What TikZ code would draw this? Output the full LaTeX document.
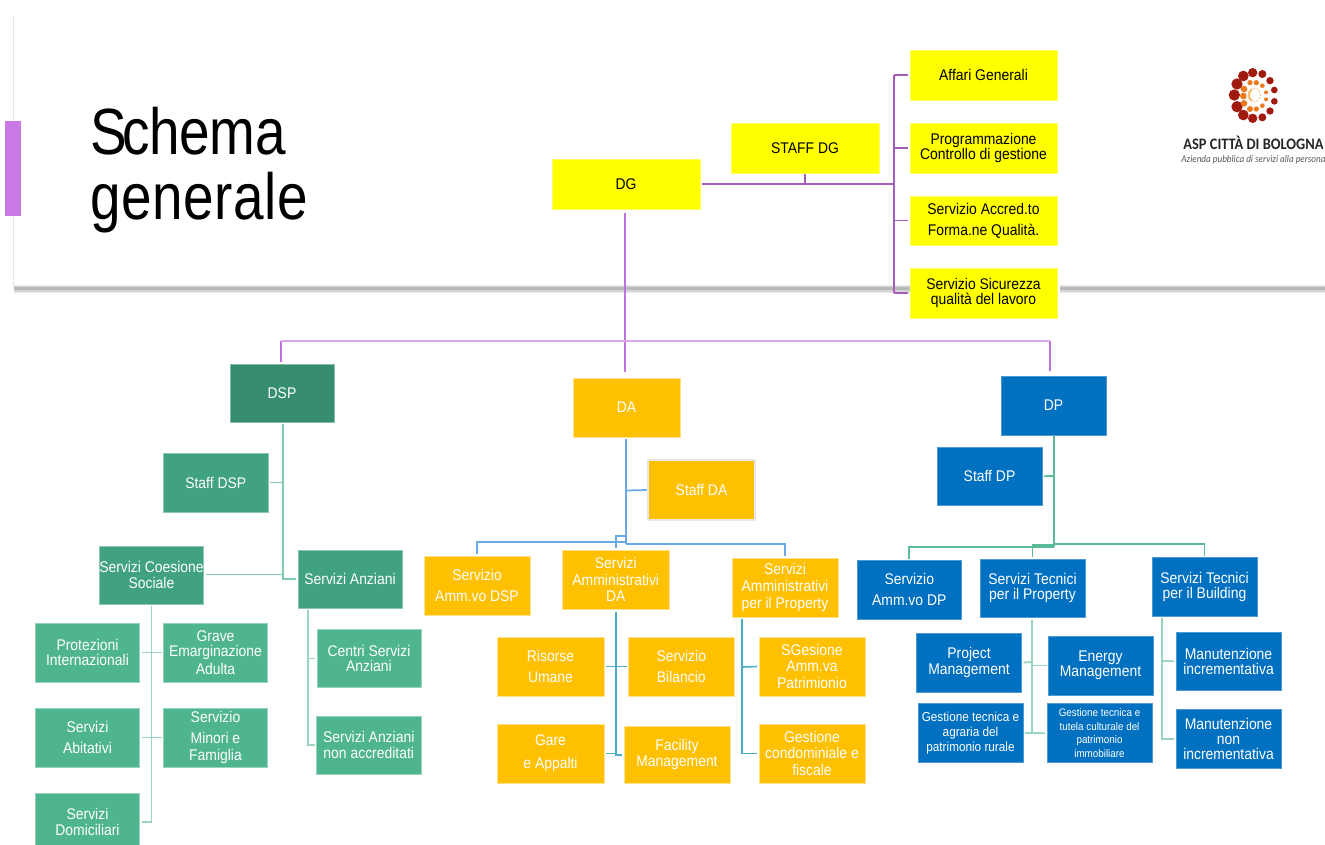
\documentclass[tikz,border=0pt]{standalone}
\usepackage{fontspec}
\setmainfont[FakeStretch=0.9]{Liberation Sans}
\newfontfamily\titlefont[FakeStretch=0.84]{Liberation Sans}
\newfontfamily\logofont[FakeStretch=0.9]{Carlito}
\definecolor{cYellow}{HTML}{FFFF00}
\definecolor{cOrange}{HTML}{FFC000}
\definecolor{cBlue}{HTML}{0070C0}
\definecolor{cGreenA}{HTML}{378E6F}
\definecolor{cGreenB}{HTML}{41A27F}
\definecolor{cGreenC}{HTML}{4FB58E}
\definecolor{cBar}{HTML}{C879E6}
\definecolor{cPurple}{HTML}{A35CB8}
\definecolor{cLilac}{HTML}{C070E0}
\definecolor{cLilacPale}{HTML}{DDA8EE}
\definecolor{cLineB}{HTML}{6AA8E6}
\definecolor{cLineT}{HTML}{4BACC6}
\definecolor{cLineG}{HTML}{5CBB97}
\definecolor{cLineD}{HTML}{7FCBAE}
\definecolor{cLineL}{HTML}{9AD6BE}
\definecolor{cDarkRed}{HTML}{A01A10}
\definecolor{cLogoOr}{HTML}{EE7A1E}
\definecolor{cLogoPale}{HTML}{F2B860}
\tikzset{
  box/.style={rectangle,inner sep=0pt,outer sep=0pt,align=center,line width=.75pt,
    font=\fontsize{11.6}{11.4}\selectfont},
  ybox/.style={box,fill=cYellow,draw=cYellow!60!white,text=black},
  obox/.style={box,fill=cOrange,draw=cOrange!45!white,text=white},
  bbox/.style={box,fill=cBlue,draw=cBlue!70!white,text=white},
  gaboxx/.style={box,fill=cGreenA,draw=cGreenA!60!white,text=white},
  gbboxx/.style={box,fill=cGreenB,draw=cGreenB!60!white,text=white},
  gcboxx/.style={box,fill=cGreenC,draw=cGreenC!60!white,text=white},
  lnP/.style={draw=cPurple,line width=1.3pt},
  lnL/.style={draw=cLilac,line width=.8pt},
  lnH/.style={draw=cLilacPale,line width=1.1pt},
  lnB/.style={draw=cLineB,line width=1.3pt},
  lnT/.style={draw=cLineT,line width=1.2pt},
  lnG/.style={draw=cLineG,line width=1.4pt},
  lnD/.style={draw=cLineD,line width=1.4pt},
  lnM/.style={draw=cLineL,line width=1.4pt},
}
\newcommand{\bx}[7]{\node[#2,minimum width={(#5-#3)*0.75pt},minimum height={(#6-#4)*0.75pt}] (#1) at ({(#3+#5)/2},{(#4+#6)/2}) {#7};}
\begin{document}
\begin{tikzpicture}[x=0.75pt,y=-0.75pt]
\path[use as bounding box] (0,0) rectangle (1325,844);
\clip (0,0) rectangle (1325,844);
\fill[white] (0,0) rectangle (1325,844);
% card
\fill[black!8] (14,285) rectangle (1325,293);
\fill[black!16] (14,286) rectangle (1325,291.5);
\fill[black!28] (14,287) rectangle (1325,290);
\draw[cyan!10!black!12,line width=.6pt] (13,15) -- (13,286);
\fill[white] (1057,282) rectangle (1060,295);
\fill[cBar] (5,121) rectangle (21,216);
\node[anchor=west,inner sep=0pt,align=left,font=\titlefont\fontsize{49}{48.8}\selectfont] (title) at (90,170) {S\kern-3pt c\kern-.7pt h\kern-.5pt e\kern-.5pt m\kern.5pt a\\g\kern.4pt e\kern.4pt n\kern.4pt e\kern.4pt r\kern.4pt a\kern.4pt l\kern.4pt e};
% logo
\begin{scope}[shift={(1175,60)},x=0.25pt,y=-0.25pt]
\foreach \a/\b/\r in {233/38/14,262/42/12,285/62/11,298/90/10,298/124/10,285/153/11,262/172/12,233/175/14,205/165/16,186/140/17,178/105/17,186/72/17,205/48/16}
  \fill[cDarkRed] (\a,\b) circle[radius=\r];
\foreach \a/\b/\r in {225/68/8,244/68/8,262/77/7,273/97/6,273/118/6,262/137/7,244/147/8,225/147/9,207/130/10,205/108/10,207/87/10}
  \fill[cLogoOr] (\a,\b) circle[radius=\r];
\foreach \a in {0,30,...,330}
  \fill[cLogoPale] ({238+18*cos(\a)},{105+20*sin(\a)}) circle[radius=2.5];
\draw[cLogoPale,line width=1.4pt] (231,88) arc[start angle=250,end angle=110,x radius=14,y radius=18];
\end{scope}
\node[anchor=center,inner sep=0pt,text=black!85,font=\logofont\bfseries\fontsize{12}{13}\selectfont] (logoa) at (1253.5,142.5) {ASP CITTÀ DI BOLOGNA};
\node[anchor=center,inner sep=0pt,text=black!65,font=\logofont\itshape\fontsize{7.6}{9}\selectfont] (logob) at (1253.5,160) {Azienda pubblica di servizi alla persona};
% yellow
\bx{dg}{ybox}{552}{159}{700}{209}{DG}
\bx{staffdg}{ybox}{731}{123}{879}{173}{STAFF DG}
\bx{aff}{ybox}{910}{50}{1057}{100}{Affari Generali}
\bx{prog}{ybox}{910}{123}{1057}{173}{Programmazione\\Controllo di gestione}
\bx{acc}{ybox}{910}{196}{1057}{245}{Servizio Accred.to\\[4.5pt]Forma.ne Qualità.}
\bx{sic}{ybox}{910}{268}{1057}{318}{Servizio Sicurezza\\qualità del lavoro}
% heads
\bx{dsp}{gaboxx}{230}{364}{334}{422}{DSP}
\bx{da}{obox}{573}{378}{680}{437}{DA}
\bx{dp}{bbox}{1001}{376}{1106}{435}{DP}
% DSP side
\bx{staffdsp}{gbboxx}{163.5}{453}{268}{512}{Staff DSP}
\bx{coes}{gbboxx}{99.5}{546}{203.5}{604}{Servizi Coesione\\Sociale}
\bx{anz}{gbboxx}{298}{550}{402}{608}{Servizi Anziani}
\bx{prot}{gcboxx}{35.5}{623}{139.5}{682}{Protezioni\\Internazionali}
\bx{grave}{gcboxx}{163.5}{623}{267.5}{682}{Grave\\Emarginazione\\[1.5pt]Adulta}
\bx{abit}{gcboxx}{35.5}{708}{139.5}{767}{Servizi\\[4.5pt]Abitativi}
\bx{minori}{gcboxx}{163.5}{708}{267.5}{767}{Servizio\\[4.5pt]Minori e\\[1.5pt]Famiglia}
\bx{domi}{gcboxx}{35.5}{793}{139.5}{851}{Servizi\\Domiciliari}
\bx{centri}{gcboxx}{317}{629.5}{421}{687.5}{Centri Servizi\\Anziani}
\bx{nonacc}{gcboxx}{316.5}{716}{421}{774}{Servizi Anziani\\non accreditati}
% DA side
\node[obox,draw=black!9,line width=1.1pt,minimum width=80.25pt,minimum height=45pt] (staffda) at (701.5,490) {Staff DA};
\bx{ammdsp}{obox}{424}{556}{530}{615}{Servizio\\[4.5pt]Amm.vo DSP}
\bx{ammda}{obox}{562.5}{550}{669}{609.5}{Servizi\\[1pt]Amministrativi\\[1pt]DA}
\bx{ammprop}{obox}{732}{558}{838}{617}{Servizi\\[1pt]Amministrativi\\[1pt]per il Property}
\bx{risorse}{obox}{497}{637}{604}{696}{Risorse\\[5pt]Umane}
\bx{bilancio}{obox}{628}{637}{734.5}{696}{Servizio\\[5pt]Bilancio}
\bx{gare}{obox}{497}{724}{604}{783}{Gare\\[6pt]e Appalti}
\bx{facility}{obox}{624}{726}{730}{783}{Facility\\Management}
\bx{sges}{obox}{759}{637}{865}{696}{SGesione\\Amm.va\\[1.5pt]Patrimionio}
\bx{cond}{obox}{759}{724}{865}{783}{Gestione\\condominiale e\\[1.5pt]fiscale}
% DP side
\bx{staffdp}{bbox}{937}{447}{1042}{505.5}{Staff DP}
\bx{ammdp}{bbox}{857}{560.5}{961.5}{619}{Servizio\\[4.5pt]Amm.vo DP}
\bx{tecprop}{bbox}{980}{559}{1085}{617.5}{Servizi Tecnici\\per il Property}
\bx{tecbuild}{bbox}{1152}{557.5}{1257}{616}{Servizi Tecnici\\per il Building}
\bx{pm}{bbox}{916.5}{633}{1021.5}{692}{Project\\Management}
\bx{em}{bbox}{1048}{636}{1153}{695}{Energy\\Management}
\node[bbox,minimum width=78.75pt,minimum height=43.9pt,font=\fontsize{9.8}{11}\selectfont] (agr) at (970.5,733.25) {Gestione tecnica e\\agraria del\\patrimonio rurale};
\node[bbox,minimum width=78.75pt,minimum height=43.9pt,font=\fontsize{8.2}{10.2}\selectfont] (tut) at (1099.5,733.25) {Gestione tecnica e\\tutela culturale del\\patrimonio\\immobiliare};
\bx{mi}{bbox}{1176}{632}{1281}{690.5}{Manutenzione\\incrementativa}
\bx{mn}{bbox}{1176}{709.5}{1281}{768}{Manutenzione\\non\\incrementativa}
% junctions
\coordinate (jp) at (894,184);
\coordinate (jt) at (625,341);
\coordinate (jd) at (283,574.5);
\coordinate (jc) at (151.5,652.5);
\coordinate (jc2) at (151.5,737.5);
\coordinate (ja) at (308,658);
\coordinate (jda) at (626,490.5);
\coordinate (jdb) at (626,542);
\coordinate (jdc) at (626,536);
\coordinate (jdd) at (626,544);
\coordinate (jr) at (616,667);
\coordinate (jrb) at (616,755);
\coordinate (jpr) at (742,667);
\coordinate (jdp) at (1054,476);
\coordinate (jpa) at (1054,547);
\coordinate (jpb) at (1054,545);
\coordinate (jpc) at (1054,544);
\coordinate (jm) at (1032,665.5);
\coordinate (jmb) at (1032,662);
\coordinate (jmc) at (1032,733);
\coordinate (jb) at (1162,661);
\coordinate (jl) at (281,341);
\coordinate (jrr) at (1050,341);
% DG connectors
\draw[lnP] ([xshift=1.5pt]dg.east) -- (jp);
\draw[lnP] ([yshift=-.75pt]staffdg.south) -- (staffdg.south |- jp);
\draw[lnP] (aff.west -| jp) -- (sic.west -| jp);
\draw[lnP] (jp |- aff.west) -- ([xshift=-1.5pt]aff.west);
\draw[lnP] (jp |- prog.west) -- ([xshift=-1.5pt]prog.west);
\draw[lnP] (jp |- acc.west) -- ([xshift=-1.5pt]acc.west);
\draw[lnP] (jp |- sic.west) -- ([xshift=-1.5pt]sic.west);
\draw[lnL] ([yshift=-3pt]dg.south -| jt) -- ([yshift=4.5pt]da.north -| jt);
\draw[lnL] ([yshift=1.5pt]dsp.north -| jl) -- (jl);
\draw[lnL] ([yshift=4pt]dp.north -| jrr) -- (jrr);
\draw[lnH] (jl) -- (jrr);
% DSP connectors
\draw[lnD] ([yshift=-1.5pt]dsp.south -| jd) -- (jd |- anz.west) -- ([xshift=-1.5pt]anz.west);
\draw[lnD] ([xshift=1.5pt]staffdsp.east) -- (jd |- staffdsp.east);
\draw[lnD] ([xshift=1.5pt]coes.east |- jd) -- (jd);
\draw[lnM] ([yshift=-1.5pt]coes.south -| jc) -- (jc |- domi.west) -- ([xshift=1.5pt]prot.east |- domi.west);
\draw[lnM] ([xshift=1.5pt]prot.east) -- ([xshift=-1.5pt]grave.west);
\draw[lnM] ([xshift=1.5pt]abit.east) -- ([xshift=-1.5pt]minori.west);
\draw[lnM] ([yshift=-1.5pt]anz.south -| ja) -- (ja |- nonacc.west) -- ([xshift=-1.5pt]nonacc.west);
\draw[lnM] (ja |- centri.west) -- ([xshift=-1.5pt]centri.west);
% DA connectors
\draw[lnB] ([yshift=-1.5pt]da.south -| jda) -- (jdd);
\draw[lnB] (jda) -- ([xshift=-1pt]staffda.west);
\draw[lnB] (jdb) -- (jdb -| ammdsp.north) -- ([yshift=1.5pt]ammdsp.north);
\draw[lnB] (jdc) -- (jdc -| ammda.north) -- ([yshift=1.5pt]ammda.north);
\draw[lnB] (jdd) -- (jdd -| ammprop.north) -- ([yshift=1.5pt]ammprop.north);
\draw[lnT] ([yshift=-1.5pt]ammda.south -| jr) -- (jrb) -- ([xshift=-1.5pt]facility.west |- jrb);
\draw[lnT] ([xshift=1.5pt]risorse.east) -- ([xshift=-1pt]bilancio.west);
\draw[lnT] ([xshift=1.5pt]gare.east) -- ([xshift=9pt]gare.east);
\draw[lnT] ([yshift=-1.5pt]ammprop.south -| jpr) -- (jpr |- cond.west) -- ([xshift=-1.5pt]cond.west);
\draw[lnT] (jpr) -- ([xshift=-1.5pt]sges.west);
% DP connectors
\draw[lnG] ([yshift=-1pt]dp.south -| jdp) -- (jpa);
\draw[lnG] ([xshift=1.5pt]staffdp.east) -- (jdp);
\draw[lnG] (jpa) -- (jpa -| ammdp.north) -- ([yshift=1.5pt]ammdp.north);
\draw[lnG] (jpb) -- (jpb -| tecprop.north) -- ([yshift=1.5pt]tecprop.north);
\draw[lnG] (jpc) -- (jpc -| tecbuild.north) -- ([yshift=1pt]tecbuild.north);
\draw[lnM] ([yshift=-1.5pt]tecprop.south -| jm) -- (jmc) -- ([xshift=1.5pt]agr.east |- jmc);
\draw[lnM] ([xshift=1.5pt]pm.east) -- (jmb);
\draw[lnM] (jm) -- ([xshift=-1pt]em.west);
\draw[lnM] (jmc) -- ([xshift=-1.5pt]tut.west);
\draw[lnM] ([yshift=-1.5pt]tecbuild.south -| jb) -- (jb |- mn.west) -- ([xshift=-1.5pt]mn.west);
\draw[lnM] (jb) -- ([xshift=-1.5pt]mi.west);
\end{tikzpicture}
\end{document}
